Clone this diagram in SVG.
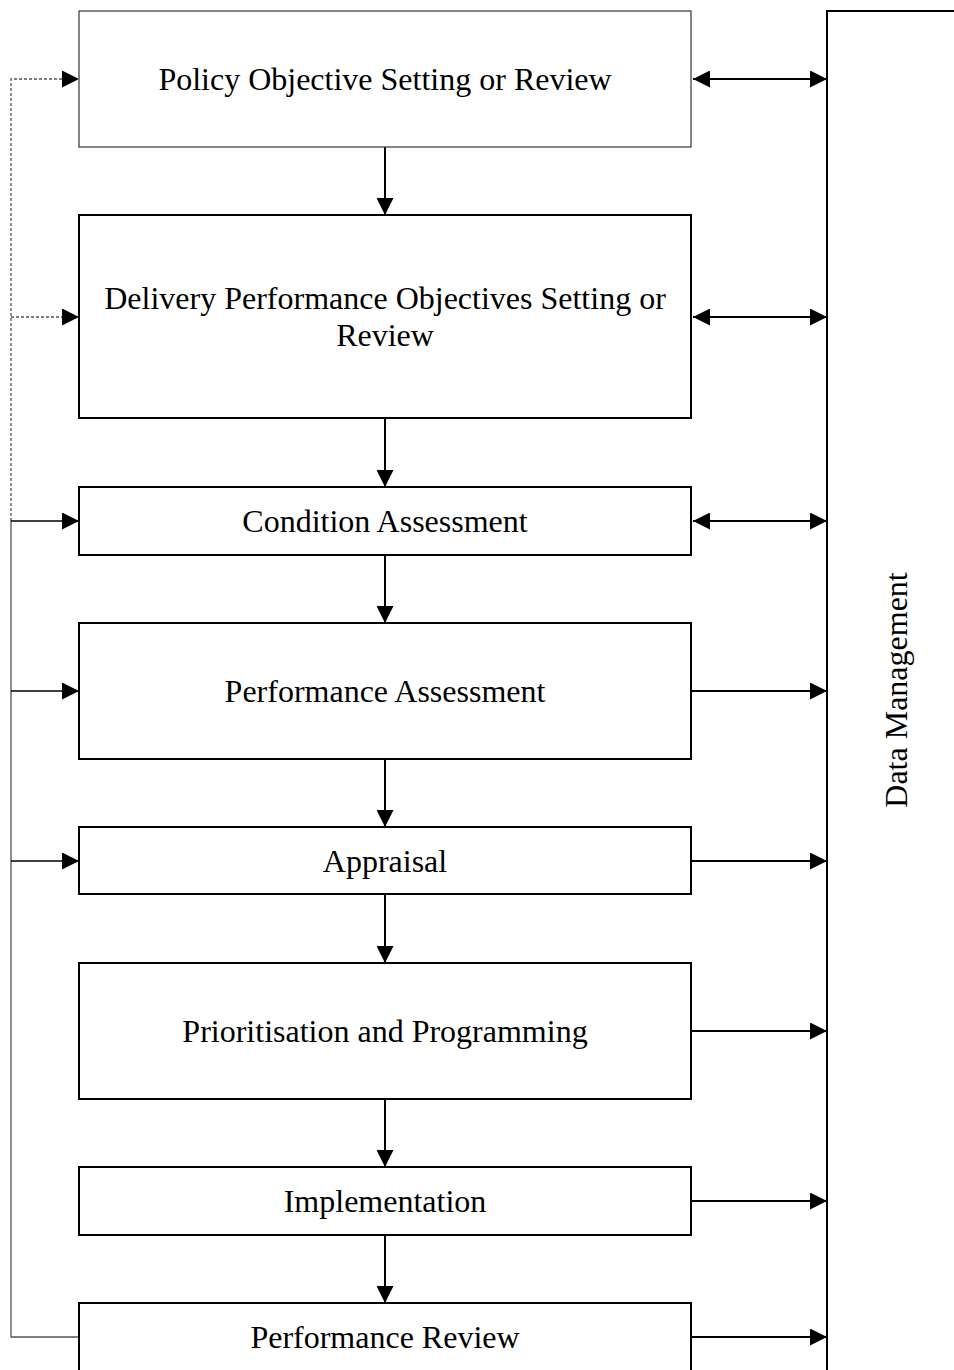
<svg xmlns="http://www.w3.org/2000/svg" width="954" height="1370" viewBox="0 0 954 1370">
<style>
.box{fill:#fff;stroke:#000;stroke-width:2}
.thin{fill:#fff;stroke:#444;stroke-width:1.3}
.lbl{font-family:"Liberation Serif","Times New Roman",serif;font-size:32px;fill:#000;text-anchor:middle}
.c{stroke:#000;stroke-width:2;fill:none}
.cl{stroke:#000;stroke-width:1.3;fill:none}
.g{stroke:#555;stroke-width:1.3;fill:none}
.d{stroke:#555;stroke-width:1.3;fill:none;stroke-dasharray:3,2}
</style>
<defs>
<marker id="ah" markerUnits="userSpaceOnUse" markerWidth="17" markerHeight="17" viewBox="0 0 17 17" refX="17" refY="8.5" orient="auto-start-reverse"><path d="M0,0 L17,8.5 L0,17 Z" fill="#000"/></marker>
</defs>
<g id="connectors">
<path class="c" d="M693,79 H827" marker-start="url(#ah)" marker-end="url(#ah)"/>
<path class="c" d="M693,317 H827" marker-start="url(#ah)" marker-end="url(#ah)"/>
<path class="c" d="M693,521 H827" marker-start="url(#ah)" marker-end="url(#ah)"/>
<path class="c" d="M691,691 H827" marker-end="url(#ah)"/>
<path class="c" d="M691,861 H827" marker-end="url(#ah)"/>
<path class="c" d="M691,1031 H827" marker-end="url(#ah)"/>
<path class="c" d="M691,1201 H827" marker-end="url(#ah)"/>
<path class="c" d="M691,1337 H827" marker-end="url(#ah)"/>
<path class="c" d="M385,147 V215" marker-end="url(#ah)"/>
<path class="c" d="M385,418 V487" marker-end="url(#ah)"/>
<path class="c" d="M385,555 V623" marker-end="url(#ah)"/>
<path class="c" d="M385,759 V827" marker-end="url(#ah)"/>
<path class="c" d="M385,894 V963" marker-end="url(#ah)"/>
<path class="c" d="M385,1099 V1167" marker-end="url(#ah)"/>
<path class="c" d="M385,1235 V1303" marker-end="url(#ah)"/>
<path class="d" d="M11,521 V79 H79" marker-end="url(#ah)"/>
<path class="d" d="M11,317 H79" marker-end="url(#ah)"/>
<path class="g" d="M79,1337 H11 V521"/>
<path class="cl" d="M11,521 H79" marker-end="url(#ah)"/>
<path class="cl" d="M11,691 H79" marker-end="url(#ah)"/>
<path class="cl" d="M11,861 H79" marker-end="url(#ah)"/>
</g>
<g id="policy"><rect class="thin" x="79" y="11" width="612" height="136"/><text class="lbl" x="385" y="90">Policy Objective Setting or Review</text></g>
<g id="delivery"><rect class="box" x="79" y="215" width="612" height="203"/><text class="lbl" x="385" y="309">Delivery Performance Objectives Setting or</text><text class="lbl" x="385" y="346">Review</text></g>
<g id="condition"><rect class="box" x="79" y="487" width="612" height="68"/><text class="lbl" x="385" y="532">Condition Assessment</text></g>
<g id="performance"><rect class="box" x="79" y="623" width="612" height="136"/><text class="lbl" x="385" y="702">Performance Assessment</text></g>
<g id="appraisal"><rect class="box" x="79" y="827" width="612" height="67"/><text class="lbl" x="385" y="872">Appraisal</text></g>
<g id="prioritisation"><rect class="box" x="79" y="963" width="612" height="136"/><text class="lbl" x="385" y="1042">Prioritisation and Programming</text></g>
<g id="implementation"><rect class="box" x="79" y="1167" width="612" height="68"/><text class="lbl" x="385" y="1212">Implementation</text></g>
<g id="review"><rect class="box" x="79" y="1303" width="612" height="80"/><text class="lbl" x="385" y="1348">Performance Review</text></g>
<g id="data"><rect class="box" x="827" y="11" width="140" height="1372"/><text class="lbl" transform="translate(907,690) rotate(-90)" font-size="28">Data Management</text></g>
</svg>
